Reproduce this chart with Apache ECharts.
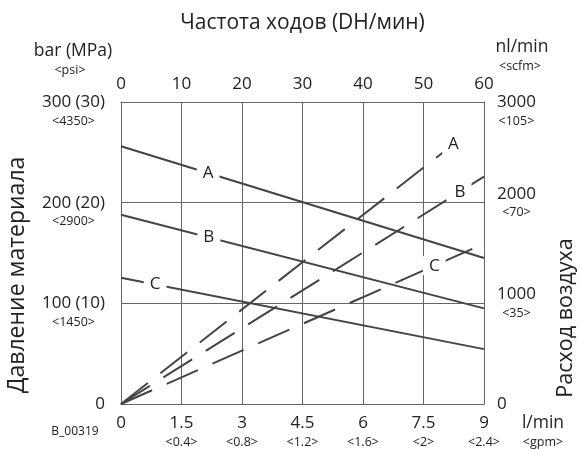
<!DOCTYPE html>
<html>
<head>
<meta charset="utf-8">
<script src="https://cdn.jsdelivr.net/npm/echarts@6/dist/echarts.min.js"></script>
<style>html,body{margin:0;padding:0;background:#fff;}#c{width:581px;height:450px;}</style>
</head>
<body>
<div id="c"></div>
<script>
// ---- data ----
const flowLpm = [0, 9];                 // l/min (bottom axis)
const pressureA = [256, 145];           // bar
const pressureB = [188, 95];
const pressureC = [125.5, 54.5];
const airFlowA = [0, 8.72];
const airA = [0, 2730];                 // nl/min
const airFlowB = [0, 9];
const airB = [0, 2258];
const airFlowC = [0, 9];
const airC = [0, 1592];
const flowTickLabels = ['0', '1.5', '3', '4.5', '6', '7.5', '9'];
const gpmTickLabels = ['', '<0.4>', '<0.8>', '<1.2>', '<1.6>', '<2>', '<2.4>'];
const pressureTickLabels = ['0', '100 (10)', '200 (20)', '300 (30)'];
const psiTickLabels = ['', '<1450>', '<2900>', '<4350>'];
const airTickLabels = ['0', '1000', '2000', '3000'];
const scfmTickLabels = ['', '<35>', '<70>', '<105>'];
const curveNames = ['A', 'B', 'C'];

const FONT = 'Open Sans';
const TXT = '#222';
const GRID = '#666';
const LINE = '#444';
const SUB = 12.5;

function pts(xs, ys) { return xs.map((x, i) => [x, ys[i]]); }
function mark(xs, ys, t, text) {
  return {
    silent: true,
    symbol: 'rect', symbolSize: 1,
    itemStyle: { color: 'rgba(0,0,0,0)' },
    label: { show: true, position: 'inside', formatter: text, fontFamily: FONT, fontSize: 17,
             color: TXT, backgroundColor: '#fff', padding: [1, 6] },
    data: [{ coord: [xs[0] + t * (xs[1] - xs[0]), ys[0] + t * (ys[1] - ys[0])] }]
  };
}
const axisLineStyle = { show: true, onZero: false, lineStyle: { color: GRID, width: 1 } };
const splitStyle = { show: true, lineStyle: { color: GRID, width: 1 } };
const richMain = { fontFamily: FONT, fontSize: 17, lineHeight: 20, color: TXT };
const richSub = { fontFamily: FONT, fontSize: SUB, lineHeight: 18, color: TXT, align: 'center' };

const chart = echarts.init(document.getElementById('c'));
chart.setOption({
  animation: false,
  textStyle: { fontFamily: FONT },
  grid: { left: 121, top: 102, width: 363, height: 302 },
  xAxis: [
    {
      type: 'value', position: 'bottom', min: 0, max: 9, interval: 1.5,
      axisLine: axisLineStyle, axisTick: { show: false }, splitLine: splitStyle,
      axisLabel: {
        margin: 9,
        formatter: v => {
          const i = Math.round(v / 1.5);
          return gpmTickLabels[i] ? '{a|' + flowTickLabels[i] + '}\n{b|' + gpmTickLabels[i] + '}' : '{a|' + flowTickLabels[i] + '}';
        },
        rich: { a: Object.assign({}, richMain, { align: 'center' }), b: richSub }
      }
    },
    {
      type: 'value', position: 'top', min: 0, max: 60, interval: 10,
      axisLine: axisLineStyle, axisTick: { show: false }, splitLine: { show: false },
      axisLabel: { margin: 9, fontFamily: FONT, fontSize: 17, color: TXT },
      name: 'Частота ходов (DH/мин)', nameLocation: 'middle', nameGap: 68,
      nameTextStyle: { fontFamily: FONT, fontSize: 21, color: TXT }
    }
  ],
  yAxis: [
    {
      type: 'value', position: 'left', min: 0, max: 300, interval: 100,
      axisLine: axisLineStyle, axisTick: { show: false }, splitLine: splitStyle,
      axisLabel: {
        margin: 16,
        formatter: v => {
          const i = Math.round(v / 100);
          return psiTickLabels[i] ? '{s| }\n{a|' + pressureTickLabels[i] + '}\n{b|' + psiTickLabels[i] + '}' : '{a|' + pressureTickLabels[i] + '}';
        },
        rich: { s: { fontSize: SUB, lineHeight: 18 }, a: Object.assign({}, richMain, { align: 'center' }), b: richSub }
      }
    },
    {
      type: 'value', position: 'right', min: 0, max: 3000, interval: 1000,
      axisLine: axisLineStyle, axisTick: { show: false }, splitLine: { show: false },
      axisLabel: {
        margin: 13,
        formatter: v => {
          const i = Math.round(v / 1000);
          if (!scfmTickLabels[i]) return '{a|' + airTickLabels[i] + '}';
          if (i === 3) return '{s| }\n{a|' + airTickLabels[i] + '}\n{b|' + scfmTickLabels[i] + '}';
          return '{a|' + airTickLabels[i] + '}\n{b|' + scfmTickLabels[i] + '}';
        },
        rich: { s: { fontSize: SUB, lineHeight: 18 }, a: Object.assign({}, richMain, { align: 'center' }), b: richSub }
      }
    }
  ],
  graphic: [
    { type: 'text', x: 73, y: 51, style: { text: 'bar (MPa)', fontFamily: FONT, fontSize: 17.5, fill: TXT, align: 'center', verticalAlign: 'middle' } },
    { type: 'text', x: 70, y: 70, style: { text: '<psi>', fontFamily: FONT, fontSize: SUB, fill: TXT, align: 'center', verticalAlign: 'middle' } },
    { type: 'text', x: 522, y: 47, style: { text: 'nl/min', fontFamily: FONT, fontSize: 17.5, fill: TXT, align: 'center', verticalAlign: 'middle' } },
    { type: 'text', x: 520, y: 66, style: { text: '<scfm>', fontFamily: FONT, fontSize: SUB, fill: TXT, align: 'center', verticalAlign: 'middle' } },
    { type: 'text', x: 543, y: 423, style: { text: 'l/min', fontFamily: FONT, fontSize: 17.5, fill: TXT, align: 'center', verticalAlign: 'middle' } },
    { type: 'text', x: 543, y: 442, style: { text: '<gpm>', fontFamily: FONT, fontSize: SUB, fill: TXT, align: 'center', verticalAlign: 'middle' } },
    { type: 'text', x: 75, y: 432, style: { text: 'B_00319', fontFamily: FONT, fontSize: 12, fill: TXT, align: 'center', verticalAlign: 'middle' } },
    { type: 'text', x: 17, y: 275, rotation: Math.PI / 2, style: { text: 'Давление материала', fontFamily: FONT, fontSize: 23, fill: TXT, align: 'center', verticalAlign: 'middle' } },
    { type: 'text', x: 566, y: 318, rotation: Math.PI / 2, style: { text: 'Расход воздуха', fontFamily: FONT, fontSize: 21.5, fill: TXT, align: 'center', verticalAlign: 'middle' } }
  ],
  series: [
    { name: 'A', type: 'line', xAxisIndex: 0, yAxisIndex: 0, data: pts(flowLpm, pressureA), symbol: 'none',
      lineStyle: { color: LINE, width: 2 }, markPoint: mark(flowLpm, pressureA, 0.24, curveNames[0]) },
    { name: 'B', type: 'line', xAxisIndex: 0, yAxisIndex: 0, data: pts(flowLpm, pressureB), symbol: 'none',
      lineStyle: { color: LINE, width: 2 }, markPoint: mark(flowLpm, pressureB, 0.242, curveNames[1]) },
    { name: 'C', type: 'line', xAxisIndex: 0, yAxisIndex: 0, data: pts(flowLpm, pressureC), symbol: 'none',
      lineStyle: { color: LINE, width: 2 }, markPoint: mark(flowLpm, pressureC, 0.094, curveNames[2]) },
    { name: 'A air', type: 'line', xAxisIndex: 0, yAxisIndex: 1, data: pts(airFlowA, airA), symbol: 'none',
      lineStyle: { color: LINE, width: 2, type: [34, 16] }, markPoint: mark(airFlowA, airA, 0.945, curveNames[0]) },
    { name: 'B air', type: 'line', xAxisIndex: 0, yAxisIndex: 1, data: pts(airFlowB, airB), symbol: 'none',
      lineStyle: { color: LINE, width: 2, type: [34, 16] }, markPoint: mark(airFlowB, airB, 0.934, curveNames[1]) },
    { name: 'C air', type: 'line', xAxisIndex: 0, yAxisIndex: 1, data: pts(airFlowC, airC), symbol: 'none',
      lineStyle: { color: LINE, width: 2, type: [34, 16] }, markPoint: mark(airFlowC, airC, 0.863, curveNames[2]) }
  ]
});
</script>
</body>
</html>
